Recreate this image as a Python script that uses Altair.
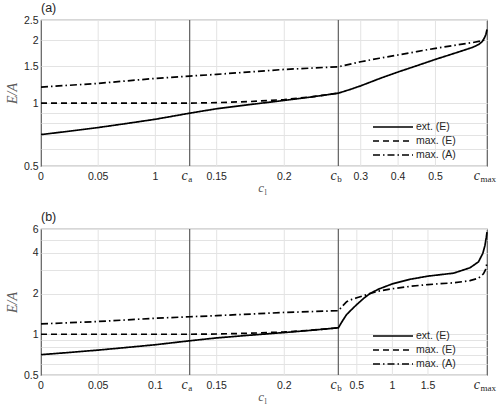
import altair as alt
import pandas as pd

# Boundaries of the three-piece c axis (each piece gets one third of the width)
C_A = 0.13
C_B = 0.24
C_MAX_A = 0.638
C_MAX_B = 2.33

SERIES = ["ext. (E)", "max. (E)", "max. (A)"]

# ---- values below c_b (identical in both panels) ----
ext_c_low = [0, 0.025, 0.05, 0.075, 0.1, 0.13, 0.15, 0.175, 0.2, 0.22, 0.24]
ext_v_low = [0.707, 0.734, 0.764, 0.799, 0.837, 0.895, 0.94, 0.985, 1.03, 1.07, 1.116]
maxE_c = [0, 0.05, 0.1, 0.13, 0.15, 0.175, 0.2, 0.22, 0.24]
maxE_v = [1.0, 1.0, 1.0, 1.0, 1.005, 1.018, 1.04, 1.072, 1.116]
maxA_c_low = [0, 0.05, 0.1, 0.13, 0.15, 0.2, 0.24]
maxA_v_low = [1.193, 1.243, 1.313, 1.347, 1.373, 1.45, 1.493]

# ---- panel (a), c_b .. c_max ----
ext_c_a = [0.27, 0.3, 0.35, 0.4, 0.45, 0.5, 0.55, 0.6, 0.616, 0.625, 0.631, 0.635, 0.638]
ext_v_a = [1.16, 1.21, 1.31, 1.41, 1.51, 1.62, 1.73, 1.85, 1.91, 1.97, 2.05, 2.13, 2.25]
maxA_c_a = [0.3, 0.35, 0.4, 0.45, 0.5, 0.55, 0.6, 0.625, 0.638]
maxA_v_a = [1.578, 1.64, 1.70, 1.765, 1.83, 1.89, 1.95, 1.99, 2.03]

# ---- panel (b), c_b .. c_max ----
ext_c_b = [0.3, 0.357, 0.43, 0.5, 0.6, 0.685, 0.8, 1.0, 1.25, 1.5, 1.86, 2.09, 2.21,
           2.27, 2.30, 2.32, 2.33]
ext_v_b = [1.26, 1.40, 1.53, 1.66, 1.85, 2.0, 2.15, 2.36, 2.55, 2.69, 2.83, 3.1, 3.43,
           3.95, 4.5, 5.2, 5.7]
maxA_c_b = [0.3, 0.357, 0.43, 0.5, 0.6, 0.685, 0.8, 1.0, 1.25, 1.5, 1.86, 2.09, 2.21,
            2.28, 2.31, 2.33]
maxA_v_b = [1.62, 1.74, 1.81, 1.86, 1.93, 2.0, 2.08, 2.17, 2.26, 2.33, 2.40, 2.49, 2.6,
            2.8, 3.0, 3.37]

# ---- axis ticks ----
xtick_c_a = [0.05, 0.1, 0.15, 0.2, 0.3, 0.4, 0.5]
xtick_lbl_a = ["0.05", "1", "0.15", "0.2", "0.3", "0.4", "0.5"]
xtick_c_b = [0.05, 0.1, 0.15, 0.2, 0.5, 1.0, 1.5]
xtick_lbl_b = ["0.05", "0.1", "0.15", "0.2", "0.5", "1", "1.5"]

ygrid_a = [0.5, 0.6, 0.7, 0.8, 0.9, 1, 1.5, 2, 2.5]
ymajor_a = [0.5, 1, 1.5, 2, 2.5]
ygrid_b = [0.5, 0.6, 0.7, 0.8, 0.9, 1, 2, 3, 4, 5, 6]
ymajor_b = [0.5, 1, 2, 4, 6]

W = 446
H_A = 146
H_B = 146

TXT = "#262626"
FRAME = "#5f5f5f"
GRID = "#e3e3e3"
SANS = "Liberation Sans"
SERIF = "Liberation Serif"


def curves(ext_c, ext_v, maxA_c, maxA_v):
    rows = []
    for c, v in zip(ext_c_low + ext_c, ext_v_low + ext_v):
        rows.append({"series": SERIES[0], "c": c, "v": v})
    for c, v in zip(maxE_c, maxE_v):
        rows.append({"series": SERIES[1], "c": c, "v": v})
    for c, v in zip(maxA_c_low + maxA_c, maxA_v_low + maxA_v):
        rows.append({"series": SERIES[2], "c": c, "v": v})
    return pd.DataFrame(rows)


def panel(tag, df, c_max, xt_c, xt_lbl, ygrid, ymajor, ydom, h):
    # piecewise map of c onto [0, 3]
    u_expr = (
        f"datum.c <= {C_A} ? datum.c / {C_A} : "
        f"(datum.c <= {C_B} ? 1 + (datum.c - {C_A}) / {C_B - C_A} : "
        f"2 + (datum.c - {C_B}) / {c_max - C_B})"
    )
    xsc = alt.Scale(domain=[0, 3], nice=False, zero=False)
    ysc = alt.Scale(type="log", domain=ydom, nice=False)
    xenc = alt.X("u:Q", scale=xsc, axis=None)

    ticks = pd.DataFrame({"c": [0.0] + xt_c, "label": ["0"] + xt_lbl})
    edges_df = pd.DataFrame({"c": [C_A, C_B]})

    grid_v = alt.Chart(ticks).transform_filter("datum.c > 0").transform_calculate(
        u=u_expr).mark_rule(color=GRID, strokeWidth=1).encode(x=xenc)

    edges = alt.Chart(edges_df).transform_calculate(u=u_expr).mark_rule(
        color=FRAME, strokeWidth=1.2).encode(x=xenc)

    lines = alt.Chart(df).transform_calculate(u=u_expr).mark_line(
        color="black", strokeWidth=1.7).encode(
        x=xenc,
        y=alt.Y("v:Q", scale=ysc, axis=alt.Axis(
            values=ygrid,
            labelExpr=f"indexof({ymajor}, datum.value) >= 0 ? format(datum.value, '~g') : ''",
            grid=True, gridColor=GRID, ticks=False, domain=False,
            labelOverlap=False, labelFont=SANS, labelFontSize=10.5, labelColor=TXT,
            labelPadding=3, title="E/A", titleFont=SERIF, titleFontStyle="italic",
            titleFontWeight="normal", titleFontSize=14, titleColor="#5a5a5a",
            titlePadding=4)),
        strokeDash=alt.StrokeDash("series:N", scale=alt.Scale(
            domain=SERIES, range=[[1, 0], [6, 4], [7, 3, 1.5, 3]]),
            legend=alt.Legend(title=None, orient="none", legendX=346, legendY=101,
                              symbolType="M-4,0H4", symbolSize=100,
                              symbolStrokeWidth=1.6, symbolStrokeColor="black",
                              labelFont=SANS, labelFontSize=10.5, labelColor=TXT,
                              labelOffset=17, rowPadding=2, padding=0)),
        detail="series:N",
        order="c:Q",
    )

    tick_lbl = alt.Chart(ticks).transform_calculate(u=u_expr).mark_text(
        font=SANS, fontSize=10.5, color=TXT, baseline="alphabetic").encode(
        x=xenc, y=alt.value(h + 14), text="label:N")

    # c_a, c_b, c_max labels: italic c with an upright subscript
    def c_label(c_val, sub, dx):
        src = pd.DataFrame({"c": [c_val], "t": ["c"], "s": [sub]})
        main = alt.Chart(src).transform_calculate(u=u_expr).mark_text(
            font=SERIF, fontStyle="italic", fontSize=14, color=TXT, align="right",
            baseline="alphabetic", dx=dx).encode(x=xenc, y=alt.value(h + 13.5), text="t:N")
        low = alt.Chart(src).transform_calculate(u=u_expr).mark_text(
            font=SERIF, fontSize=9, color=TXT, align="left", baseline="alphabetic",
            dx=dx + 0.5).encode(x=xenc, y=alt.value(h + 16), text="s:N")
        return [main, low]

    special = c_label(C_A, "a", -2) + c_label(C_B, "b", -1.5) + c_label(c_max, "max", -7)

    xt_c = alt.Chart(pd.DataFrame({"t": ["c"]})).mark_text(
        font=SERIF, fontStyle="italic", fontSize=13, color="#5a5a5a", align="right",
        baseline="alphabetic").encode(x=alt.value(W / 2), y=alt.value(h + 26), text="t:N")
    xt_sub = alt.Chart(pd.DataFrame({"t": ["l"]})).mark_text(
        font=SERIF, fontSize=8.5, color="#5a5a5a", align="left",
        baseline="alphabetic").encode(x=alt.value(W / 2 + 0.5), y=alt.value(h + 28.5),
                                      text="t:N")

    return alt.layer(grid_v, edges, lines, tick_lbl, *special, xt_c, xt_sub).properties(
        width=W, height=h,
        title=alt.TitleParams(tag, anchor="start", frame="group", font=SANS,
                              fontSize=12.5, fontWeight="normal", color=TXT, offset=1),
    )


pa = panel("(a)", curves(ext_c_a, ext_v_a, maxA_c_a, maxA_v_a), C_MAX_A,
           xtick_c_a, xtick_lbl_a, ygrid_a, ymajor_a, [0.5, 2.5], H_A)
pb = panel("(b)", curves(ext_c_b, ext_v_b, maxA_c_b, maxA_v_b), C_MAX_B,
           xtick_c_b, xtick_lbl_b, ygrid_b, ymajor_b, [0.5, 6], H_B)

chart = alt.vconcat(pa, pb, spacing=63, bounds="flush").resolve_scale(
    x="independent", y="independent", strokeDash="independent"
).resolve_legend(strokeDash="independent").properties(
    padding={"left": 4, "top": 0, "right": 2, "bottom": 2}
).configure_view(stroke=FRAME, strokeWidth=1.2)

chart.save("out.html", embed_options={"renderer": "svg", "actions": False})
